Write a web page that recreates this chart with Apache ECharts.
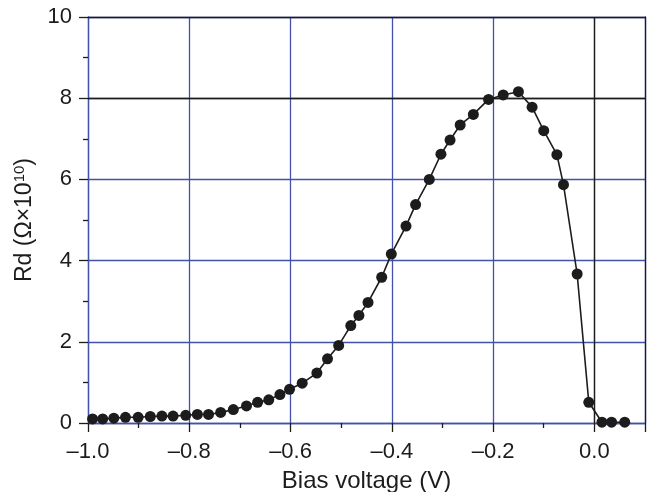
<!DOCTYPE html>
<html>
<head>
<meta charset="utf-8">
<script src="https://cdn.jsdelivr.net/npm/echarts@6/dist/echarts.min.js"></script>
<style>
  html, body { margin: 0; padding: 0; background: #ffffff; }
  #chart { width: 649px; height: 492px; }
</style>
</head>
<body>
<div id="chart"></div>
<script>
// Differential resistance Rd versus bias voltage
const biasVoltage = [
  -0.991, -0.971, -0.949, -0.926, -0.901, -0.877, -0.854, -0.832, -0.807, -0.784,
  -0.762, -0.738, -0.713, -0.687, -0.665, -0.643, -0.621, -0.602, -0.577, -0.548,
  -0.527, -0.505, -0.481, -0.465, -0.447, -0.420, -0.401, -0.372, -0.353, -0.326,
  -0.303, -0.285, -0.265, -0.239, -0.209, -0.180, -0.150, -0.123, -0.100, -0.074,
  -0.061, -0.034, -0.011, 0.015, 0.034, 0.060
];
const rd = [
  0.10, 0.10, 0.12, 0.14, 0.14, 0.16, 0.17, 0.17, 0.19, 0.21,
  0.21, 0.26, 0.33, 0.42, 0.51, 0.57, 0.70, 0.83, 0.98, 1.23,
  1.58, 1.91, 2.40, 2.65, 2.97, 3.59, 4.16, 4.85, 5.38, 6.00,
  6.62, 6.97, 7.34, 7.60, 7.97, 8.08, 8.16, 7.78, 7.20, 6.61,
  5.87, 3.67, 0.51, 0.02, 0.02, 0.02
];
// Emphasised (black) reference lines
const blackXLines = [0.0];
const blackYLines = [8];

const FONT = 'Liberation Sans';
const BLUE = '#4352a8';
const INK = '#1c1c1c';

const points = biasVoltage.map((v, i) => [v, rd[i]]);

const chart = echarts.init(document.getElementById('chart'), null, { renderer: 'canvas' });

function fmtX(v) {
  if (v > 0.05) return '';
  const s = Math.abs(v).toFixed(1);
  return v < -1e-9 ? '\u2013' + s : s;
}

chart.setOption({
  animation: false,
  backgroundColor: '#ffffff',
  grid: { left: 88, right: 4, top: 17, bottom: 69, containLabel: false, outerBoundsMode: 'none' },
  xAxis: [
    {
      type: 'value',
      position: 'bottom',
      min: -1.0, max: 0.1, interval: 0.2,
      name: 'Bias voltage (V)',
      nameLocation: 'middle',
      nameGap: 46,
      nameTextStyle: { fontFamily: FONT, fontSize: 24, color: INK },
      axisLine: { show: true, onZero: false, lineStyle: { color: BLUE, width: 1.3 } },
      axisTick: { show: true, length: 9, lineStyle: { color: INK, width: 1.3 } },
      minorTick: { show: true, splitNumber: 2, length: 5, lineStyle: { color: INK, width: 1.3 } },
      splitLine: { show: true, lineStyle: { color: BLUE, width: 1.3 } },
      axisLabel: { fontFamily: FONT, fontSize: 22, color: INK, margin: 18, formatter: fmtX, showMaxLabel: false }
    },
    {
      type: 'value',
      position: 'top',
      min: -1.0, max: 0.1,
      axisLine: { show: true, onZero: false, lineStyle: { color: INK, width: 1.3 } },
      axisTick: { show: false },
      axisLabel: { show: false },
      splitLine: { show: false }
    }
  ],
  yAxis: [
    {
      type: 'value',
      position: 'left',
      min: 0, max: 10, interval: 2,
      name: 'Rd (\u03A9\u00D710{sup|10})',
      nameLocation: 'middle',
      nameGap: 45,
      nameTextStyle: {
        fontFamily: FONT, fontSize: 23, color: INK,
        rich: { sup: { fontFamily: FONT, fontSize: 15, color: INK, verticalAlign: 'bottom', padding: [0, 0, 10, 0] } }
      },
      axisLine: { show: true, onZero: false, lineStyle: { color: BLUE, width: 1.3 } },
      axisTick: { show: true, length: 9, lineStyle: { color: INK, width: 1.3 } },
      minorTick: { show: true, splitNumber: 2, length: 5, lineStyle: { color: INK, width: 1.3 } },
      splitLine: { show: true, lineStyle: { color: BLUE, width: 1.3 } },
      axisLabel: { fontFamily: FONT, fontSize: 22, color: INK, margin: 16 }
    },
    {
      type: 'value',
      position: 'right',
      min: 0, max: 10,
      axisLine: { show: true, onZero: false, lineStyle: { color: INK, width: 1.3 } },
      axisTick: { show: false },
      axisLabel: { show: false },
      splitLine: { show: false }
    }
  ],
  series: [
    {
      // black reference lines drawn beneath the data
      type: 'line',
      xAxisIndex: 0, yAxisIndex: 0,
      data: [],
      z: 1,
      silent: true,
      markLine: {
        silent: true,
        symbol: ['none', 'none'],
        label: { show: false },
        lineStyle: { color: INK, width: 1.3, type: 'solid' },
        data: blackXLines.map(v => ({ xAxis: v })).concat(blackYLines.map(v => ({ yAxis: v })))
      }
    },
    {
      type: 'line',
      xAxisIndex: 0, yAxisIndex: 0,
      data: points,
      z: 3,
      symbol: 'circle',
      symbolSize: 11,
      showSymbol: true,
      itemStyle: { color: INK },
      lineStyle: { color: INK, width: 1.6 }
    }
  ]
});
</script>
</body>
</html>
